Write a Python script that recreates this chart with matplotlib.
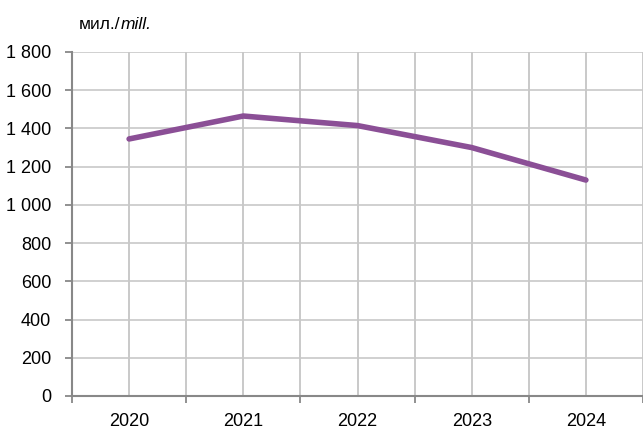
import matplotlib
matplotlib.use('Agg')
import matplotlib.pyplot as plt
from matplotlib.ticker import FuncFormatter
import numpy as np

years = ['2020', '2021', '2022', '2023', '2024']
values = [1345, 1465, 1415, 1300, 1130]
y_ticks = [0, 200, 400, 600, 800, 1000, 1200, 1400, 1600, 1800]

plt.rcParams['font.family'] = ['Liberation Sans', 'DejaVu Sans']

fig = plt.figure(figsize=(6.43, 4.29), dpi=100)
ax = fig.add_axes([72 / 643, 33 / 429, (643 - 72) / 643, 344 / 429])

x = np.arange(len(years))
ax.plot(x, values, color='#8b4f96', linewidth=4.0, solid_capstyle='round', zorder=3)

ax.set_ylim(0, 1800)
ax.set_xlim(-0.5, 4.45)
ax.set_yticks(y_ticks)
ax.yaxis.set_major_formatter(FuncFormatter(lambda v, p: f'{int(v):,}'.replace(',', ' ')))

# category boundaries carry tick marks, centres carry labels
ax.set_xticks(np.arange(-0.5, len(years), 1.0))
ax.set_xticklabels([])
ax.set_xticks(x, minor=True)
ax.set_xticklabels(years, minor=True)
ax.tick_params(axis='x', which='major', length=5, width=1.3, color='#888888', direction='out')
ax.tick_params(axis='x', which='minor', length=0, pad=12, labelsize=13)
ax.tick_params(axis='y', length=5, width=1.3, color='#888888', pad=10, labelsize=13)

ax.grid(True, which='both', axis='x', color='#c0c0c0', linewidth=1.2)
ax.grid(True, which='major', axis='y', color='#c8c8c8', linewidth=1.2)
ax.set_axisbelow(True)

for s in ['top', 'right']:
    ax.spines[s].set_visible(False)
for s in ['left', 'bottom']:
    ax.spines[s].set_color('#888888')
    ax.spines[s].set_linewidth(1.5)

# unit label: upright Cyrillic part followed by italic Latin part
t1 = fig.text(79 / 643, 1 - 29 / 429, 'мил./', fontsize=12.5, va='baseline', ha='left')
fig.canvas.draw()
bb = t1.get_window_extent()
x2 = bb.x1 / fig.bbox.width
fig.text(x2, 1 - 29 / 429, 'mill.', fontsize=12.5, style='italic', va='baseline', ha='left')

fig.savefig('out.png', dpi=100)
